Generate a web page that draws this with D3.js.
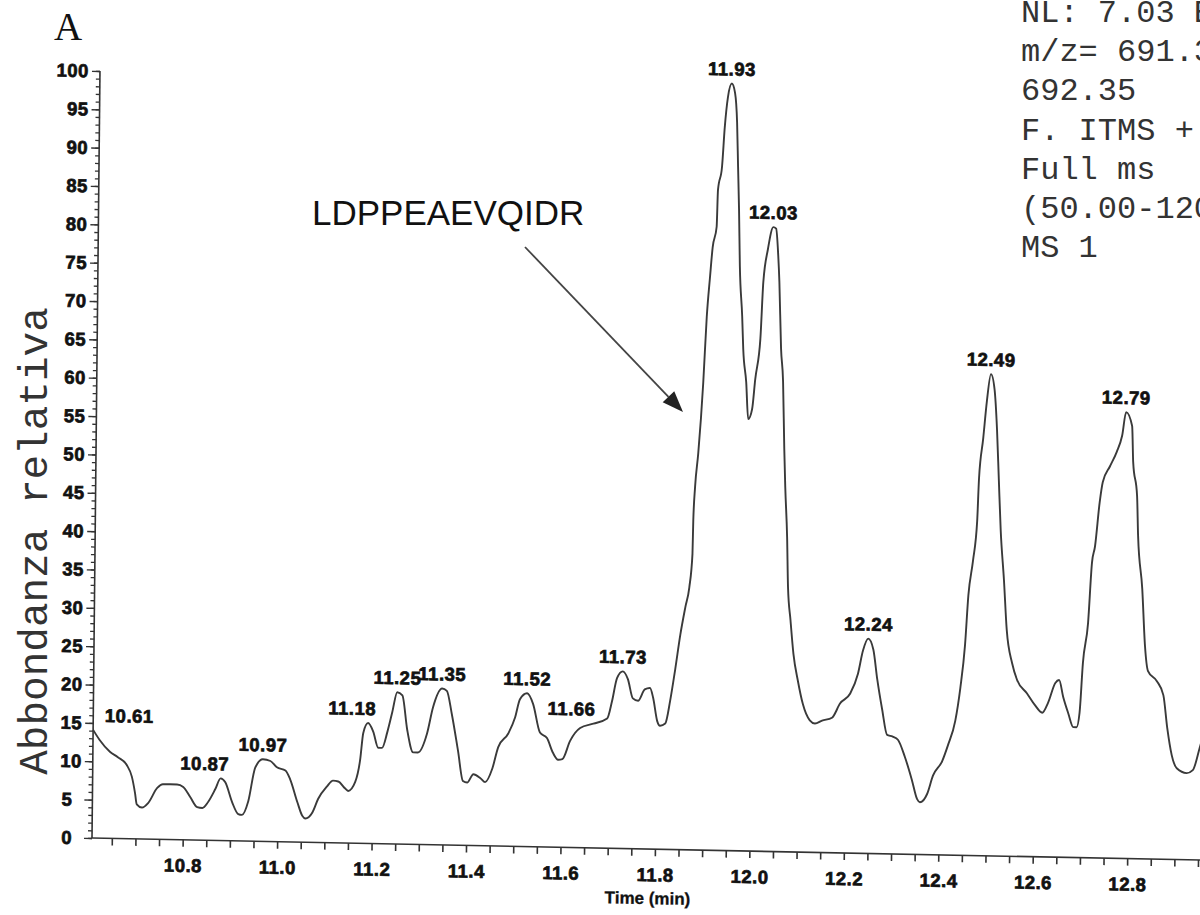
<!DOCTYPE html>
<html>
<head>
<meta charset="utf-8">
<script src="https://cdn.jsdelivr.net/npm/d3@7"></script>
<style>
  html, body { margin: 0; padding: 0; background: #fff; overflow: hidden; }
  svg { display: block; }
</style>
</head>
<body>
<div id="chart"></div>
<script>
// retention time (min) and relative abundance
var times = [
  10.608,10.622,10.644,10.661,10.680,10.691,10.698,10.702,10.713,10.726,10.745,10.757,10.787,10.800,10.815,10.830,10.841,10.853,10.868,10.879,10.889,
  10.904,10.917,10.925,10.938,10.952,10.968,10.984,10.998,11.016,11.026,11.042,11.053,11.059,11.074,11.086,
  11.104,11.117,11.128,11.143,11.149,11.164,11.174,11.180,11.190,11.201,11.212,11.220,11.231,11.241,11.251,11.262,11.273,11.286,
  11.296,11.315,11.327,11.346,11.356,11.367,11.381,11.392,11.401,11.414,11.429,11.439,11.454,11.466,11.487,
  11.501,11.511,11.526,11.539,11.554,11.569,11.582,11.593,11.602,11.618,11.639,11.667,11.696,
  11.706,11.716,11.728,11.739,11.750,11.761,11.775,11.786,11.793,11.802,11.808,11.819,11.829,11.839,11.849,11.859,11.867,11.873,11.874,11.877,11.883,11.892,
  11.898,11.904,11.909,11.917,11.919,11.927,11.932,11.938,11.946,11.953,11.958,11.961,11.964,11.967,11.973,11.976,11.983,11.988,11.996,12.002,
  12.012,12.017,12.026,12.037,12.043,12.048,12.051,12.056,12.061,12.065,12.068,12.073,12.076,12.082,12.089,
  12.099,12.110,12.125,12.136,12.151,12.172,12.189,12.210,12.226,12.236,12.247,12.258,12.267,12.278,12.289,
  12.301,12.312,12.327,12.342,12.354,12.360,12.375,12.387,12.406,12.418,12.433,12.443,12.452,12.458,12.467,12.475,12.478,12.486,
  12.493,12.501,12.509,12.515,12.520,12.525,12.533,12.540,12.552,12.563,12.584,12.601,12.617,12.629,12.644,12.652,12.661,12.672,12.683,
  12.690,12.696,12.702,12.712,12.719,12.725,12.734,12.740,12.755,12.769,12.780,12.788,12.801,12.804,12.813,12.816,12.826,12.833,12.840,12.859,12.873,12.882,
  12.892,12.903,12.924,12.937,12.951,12.965
];
var abundance = [
  14.1,12.8,11.3,10.6,9.6,8.1,6.0,4.5,4.1,4.7,6.7,7.2,7.2,6.9,5.6,4.3,4.2,5.0,6.7,8.1,7.6,
  5.0,3.5,3.4,5.2,9.6,10.7,10.5,9.7,9.3,8.2,5.2,3.4,3.1,3.9,5.7,
  7.3,8.1,8.0,7.1,6.8,8.0,10.9,14.4,15.7,14.6,12.5,12.5,14.6,17.2,19.8,19.4,14.9,12.0,
  12.0,14.5,17.9,20.4,20.1,17.1,12.3,8.4,8.2,9.3,8.8,8.3,10.1,12.9,14.7,
  16.8,19.2,20.0,18.6,14.9,14.2,12.3,11.4,11.5,13.9,15.6,16.2,16.9,
  19.2,22.2,23.1,22.1,19.6,19.3,20.8,21.0,19.7,16.7,16.1,16.4,19.4,23.5,28.0,31.6,34.2,38.6,43.0,47.3,51.7,60.9,
  69.5,74.7,78.6,81.3,86.1,89.1,94.3,98.2,100,98.8,94.9,89.2,83.6,76.2,69.7,65.4,61.1,56.3,57.6,61.5,
  66.8,74.2,78.5,81.4,81.2,77.7,74.3,65.6,61.3,52.6,47.5,41.0,34.5,30.2,25.8,
  22.3,19.3,17.2,16.8,17.2,17.6,19.5,20.8,23.4,26.4,28.0,26.6,22.7,18.8,15.5,
  15.3,14.9,12.7,9.8,7.2,6.8,7.9,10.3,12.2,14.3,17.5,21.8,27.4,33.9,38.4,43.6,49.2,54.4,
  59.3,62.8,60.8,55.6,49.0,42.5,36.0,29.5,25.2,23.0,21.3,19.8,18.8,20.1,22.7,23.1,20.9,18.8,17.0,
  17.0,18.9,25.4,30.6,38.5,40.6,46.4,49.0,51.1,53.0,55.1,58.2,56.4,51.7,47.3,42.1,35.2,27.8,24.5,23.2,21.4,17.1,
  13.6,11.9,11.3,11.7,14.6,18.0
];

var peakLabels = ["10.61","10.87","10.97","11.18","11.25","11.35","11.52","11.66","11.73","11.93","12.03","12.24","12.49","12.79"];
var xLabelTicks = [10.8, 11.0, 11.2, 11.4, 11.6, 11.8, 12.0, 12.2, 12.4, 12.6, 12.8];
var yLabelTicks = [0,5,10,15,20,25,30,35,40,45,50,55,60,65,70,75,80,85,90,95,100];
var infoLines = ["NL: 7.03 E5", "m/z= 691.35-", "692.35", "F. ITMS + c", "Full ms", "(50.00-1200.00)", "MS 1"];
var peptide = "LDPPEAEVQIDR";

var W = 1200, H = 915;
var x0 = 92, y0 = 838;           // axis corner
var tStart = 10.608, tEnd = 13.0;
var pxPerMin = 472.25;

var x = d3.scaleLinear().domain([tStart, tEnd]).range([x0, x0 + (tEnd - tStart) * pxPerMin]);
var y = d3.scaleLinear().domain([0, 100]).range([y0, 71]);

var svg = d3.select("#chart").append("svg")
  .attr("width", W)
  .attr("height", H);

var boldFont = "'Liberation Sans', Arial, sans-serif";
var ink = "#111";

function heavy(sel) {
  sel.attr("font-family", boldFont)
    .attr("font-weight", "bold")
    .attr("font-size", "18.5px")
    .attr("letter-spacing", "0.5px")
    .attr("fill", ink)
    .attr("stroke", ink)
    .attr("stroke-width", 0.7);
}

// the scanned figure sits a little skewed
var g = svg.append("g")
  .attr("transform", "translate(" + x0 + "," + y0 + ") matrix(1,0.0199,-0.0104,1,0,0) translate(" + (-x0) + "," + (-y0) + ")");

// x axis: minor ticks every 0.05, labels every 0.2
var xMinor = d3.range(0, 48).map(function(i) { return +(10.65 + i * 0.05).toFixed(2); });
g.append("g")
  .attr("transform", "translate(0," + y0 + ")")
  .call(d3.axisBottom(x).tickValues(xMinor).tickSize(7).tickFormat(""))
  .call(function(a) {
    a.select(".domain").attr("d", "M" + x0 + ",0H" + (W + 40)).attr("stroke", "#333").attr("stroke-width", 1.6);
    a.selectAll(".tick line").attr("stroke", "#333").attr("stroke-width", 1.6);
  });

g.append("g")
  .attr("transform", "translate(0," + y0 + ")")
  .call(d3.axisBottom(x).tickValues(xLabelTicks).tickSize(0).tickPadding(19).tickFormat(d3.format(".1f")))
  .call(function(a) {
    a.select(".domain").remove();
    a.selectAll("text").call(heavy);
  });

// y axis: minor ticks every 1, labels every 5
g.append("g")
  .attr("transform", "translate(" + x0 + ",0)")
  .call(d3.axisLeft(y).tickValues(d3.range(0, 101, 1)).tickSize(4).tickFormat(""))
  .call(function(a) {
    a.select(".domain").attr("d", "M0," + y(0) + "V" + y(100)).attr("stroke", "#333").attr("stroke-width", 1.6);
    a.selectAll(".tick line").attr("stroke", "#333").attr("stroke-width", 1.3);
  });

g.append("g")
  .attr("transform", "translate(" + x0 + ",0)")
  .call(d3.axisLeft(y).tickValues(yLabelTicks).tickSize(8).tickPadding(3).tickFormat(d3.format("d")))
  .call(function(a) {
    a.select(".domain").remove();
    a.selectAll(".tick line").attr("stroke", "#333").attr("stroke-width", 1.4);
    a.selectAll("text").call(heavy)
      .attr("dx", function(d) { return d < 10 ? -9 : 0; });
  });

g.append("text")
  .attr("x", 648)
  .attr("y", y0 + 55)
  .attr("text-anchor", "middle")
  .attr("font-family", boldFont)
  .attr("font-weight", "bold")
  .attr("font-size", "17px")
  .attr("fill", ink)
  .attr("stroke", ink)
  .attr("stroke-width", 0.3)
  .text("Time (min)");

// the trace
var pts = times.map(function(t, i) { return [t, abundance[i]]; });
var line = d3.line()
  .x(function(d) { return x(d[0]); })
  .y(function(d) { return y(d[1]); })
  .curve(d3.curveMonotoneX);

g.append("path")
  .datum(pts)
  .attr("fill", "none")
  .attr("stroke", "#3a3a3a")
  .attr("stroke-width", 1.9)
  .attr("stroke-linejoin", "round")
  .attr("d", line);

// peak labels sit over the apex found near each labelled time
var labelNudge = { "10.87": -16, "11.18": -16, "11.66": -22 };
peakLabels.forEach(function(lbl) {
  var t0 = +lbl, best = null;
  pts.forEach(function(p) {
    if (Math.abs(p[0] - t0) <= 0.025 && (!best || p[1] > best[1])) best = p;
  });
  var px = Math.max(x(best[0]) + (labelNudge[lbl] || 0), x(tStart) + 36);
  g.append("text")
    .attr("x", px)
    .attr("y", y(best[1]) - 8)
    .attr("text-anchor", "middle")
    .call(heavy)
    .text(lbl);
});

// panel letter, y title, header block
svg.append("text")
  .attr("x", 54).attr("y", 40)
  .attr("font-family", "'Liberation Serif', 'Times New Roman', serif")
  .attr("font-size", "39px")
  .attr("fill", ink)
  .text("A");

svg.append("text")
  .attr("transform", "translate(47,541) rotate(-90)")
  .attr("text-anchor", "middle")
  .attr("font-family", "'Liberation Mono', 'Courier New', monospace")
  .attr("font-size", "41px")
  .attr("fill", "#333")
  .text("Abbondanza relativa");

svg.append("g").selectAll("text")
  .data(infoLines)
  .enter()
  .append("text")
  .attr("x", 1021)
  .attr("y", function(d, i) { return 22 + i * 39.2; })
  .attr("font-family", "'Liberation Mono', 'Courier New', monospace")
  .attr("font-size", "32px")
  .attr("fill", "#333")
  .attr("xml:space", "preserve")
  .text(function(d) { return d; });

// peptide annotation with arrow
svg.append("text")
  .attr("x", 312).attr("y", 225)
  .attr("font-family", "'Liberation Sans', Arial, sans-serif")
  .attr("font-size", "35px")
  .attr("fill", ink)
  .text(peptide);

var a0 = [525, 247], a1 = [683, 412];
var ang = Math.atan2(a1[1] - a0[1], a1[0] - a0[0]);
var headL = 21, headW = 8;
var base = [a1[0] - headL * Math.cos(ang), a1[1] - headL * Math.sin(ang)];
svg.append("line")
  .attr("x1", a0[0]).attr("y1", a0[1])
  .attr("x2", base[0]).attr("y2", base[1])
  .attr("stroke", "#444")
  .attr("stroke-width", 1.8);
svg.append("path")
  .attr("d", "M" + a1[0] + "," + a1[1] +
    "L" + (base[0] + headW * Math.sin(ang)) + "," + (base[1] - headW * Math.cos(ang)) +
    "L" + (base[0] - headW * Math.sin(ang)) + "," + (base[1] + headW * Math.cos(ang)) + "Z")
  .attr("fill", "#222");
</script>
</body>
</html>
